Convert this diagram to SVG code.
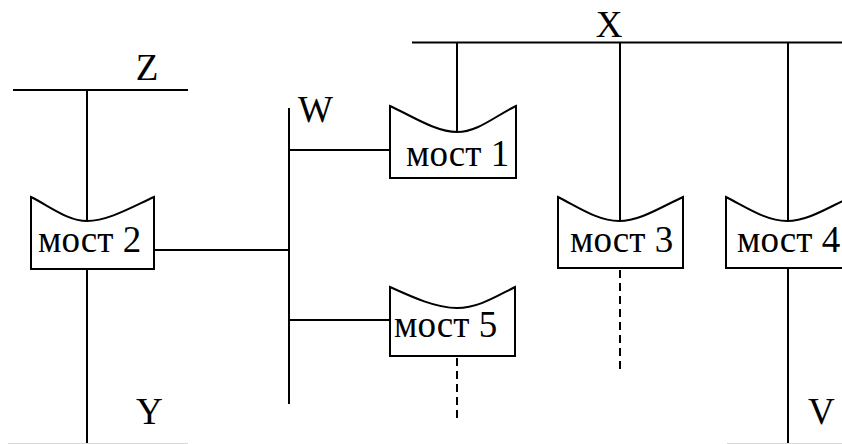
<svg xmlns="http://www.w3.org/2000/svg" width="842" height="444" viewBox="0 0 842 444">
<style>
.ln{stroke:#000;stroke-width:2;fill:none}
.dash{stroke:#000;stroke-width:2;fill:none;stroke-dasharray:8,5}
.box{stroke:#000;stroke-width:2;fill:#fff}
text{font-family:'Liberation Serif','Times New Roman',serif;fill:#000}
.t{font-size:37px}
.lbl{font-size:37px}
</style>
<rect width="842" height="444" fill="#fff"/>
<g id="connectors">
<line class="ln" x1="13" y1="90" x2="188" y2="90"/>
<line class="ln" x1="87" y1="90" x2="87" y2="221"/>
<line class="ln" x1="87" y1="269" x2="87" y2="444"/>
<line class="ln" x1="154" y1="250" x2="289" y2="250"/>
<line class="ln" x1="289" y1="108" x2="289" y2="404"/>
<line class="ln" x1="289" y1="150" x2="390" y2="150"/>
<line class="ln" x1="289" y1="320" x2="390" y2="320"/>
<line class="ln" x1="412" y1="42.5" x2="842" y2="42.5"/>
<line class="ln" x1="457" y1="42.5" x2="457" y2="132"/>
<line class="ln" x1="620" y1="42.5" x2="620" y2="221"/>
<line class="ln" x1="788" y1="42.5" x2="788" y2="221"/>
<line class="ln" x1="788" y1="268" x2="788" y2="444"/>
<line class="dash" x1="620" y1="270" x2="620" y2="371"/>
<line class="dash" x1="457" y1="358" x2="457" y2="418"/>
<line x1="8" y1="443.5" x2="188" y2="443.5" stroke="#d8d8d8" stroke-width="1"/>
<line x1="727" y1="443.5" x2="842" y2="443.5" stroke="#d8d8d8" stroke-width="1"/>
</g>
<g id="bus-labels">
<text class="lbl" x="147" y="80" text-anchor="middle">Z</text>
<text class="lbl" x="609" y="37" text-anchor="middle">X</text>
<text class="lbl" x="298" y="122">W</text>
<text class="lbl" x="136" y="424">Y</text>
<text class="lbl" x="808" y="424">V</text>
</g>
<g id="bridge1">
<path class="box" d="M390,106 C412,116 436,132 457,132 C478,132 495,116 516,106 L516,178 L390,178 Z"/>
<text class="t" x="406" y="166">мост 1</text>
</g>
<g id="bridge2">
<path class="box" d="M31,197 C51,207 68,221 87,221 C108,221 132,207 154,197 L154,269 L31,269 Z"/>
<text class="t" x="38" y="252">мост 2</text>
</g>
<g id="bridge3">
<path class="box" d="M558,197 C578,207 598,221 619,221 C640,221 661,207 683,197 L683,268 L558,268 Z"/>
<text class="t" x="570" y="252">мост 3</text>
</g>
<g id="bridge4">
<path class="box" d="M726,197 C746,207 766,221 787,221 C808,221 829,207 851,197 L851,268 L726,268 Z"/>
<text class="t" x="737" y="252">мост 4</text>
</g>
<g id="bridge5">
<path class="box" d="M390,287 C412,297 436,308 457,308 C478,308 495,297 515,287 L515,356 L390,356 Z"/>
<text class="t" x="394" y="337">мост 5</text>
</g>
</svg>
